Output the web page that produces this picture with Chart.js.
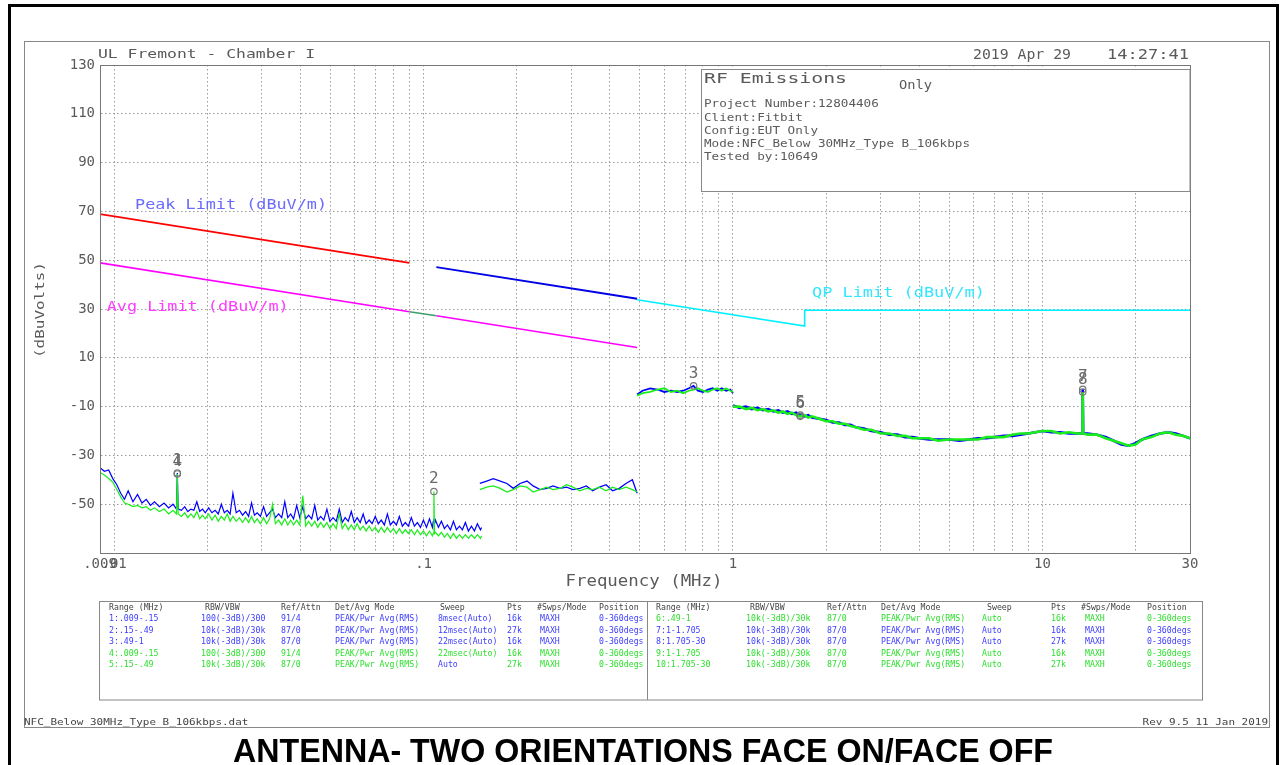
<!DOCTYPE html>
<html>
<head>
<meta charset="utf-8">
<script src="https://cdn.jsdelivr.net/npm/chart.js@4.4.1/dist/chart.umd.min.js"></script>
<style>
  html, body { margin: 0; padding: 0; background: #fff; }
  canvas { display: block; }
</style>
</head>
<body>
<canvas id="emiChart" width="1285" height="765"></canvas>
<script>
// ---- data (MHz / dBuV) ----
const xTickVals = [0.009, 0.01, 0.02, 0.03, 0.04, 0.05, 0.06, 0.07, 0.08, 0.09,
                   0.1, 0.2, 0.3, 0.4, 0.5, 0.6, 0.7, 0.8, 0.9,
                   1, 2, 3, 4, 5, 6, 7, 8, 9, 10, 20, 30];
const xTickText = {0.009: '.009', 0.01: '.01', 0.1: '.1', 1: '1', 10: '10', 30: '30'};
const yTickVals = [-70, -50, -30, -10, 10, 30, 50, 70, 90, 110, 130];

// limit lines
const peakFreqA = [0.009, 0.09];
const peakValA  = [68.9, 48.9];
const peakFreqB = [0.11, 0.49];
const peakValB  = [47.2, 34.2];
const avgFreqA  = [0.009, 0.09];
const avgValA   = [48.9, 28.9];
const avgFreqGap = [0.09, 0.11];
const avgValGap  = [28.9, 27.2];
const avgFreqB  = [0.11, 0.49];
const avgValB   = [27.2, 14.2];
const qpFreq    = [0.49, 1.705, 1.705, 30];
const qpVal     = [33.8, 23.0, 29.5, 29.5];

// segment A: .009 - .15 MHz
const freqA = [0.009, 0.0093, 0.0096, 0.0099, 0.0102, 0.0105, 0.0108, 0.0111, 0.0115, 0.0119,
  0.0123, 0.0127, 0.0131, 0.0135, 0.014, 0.0145, 0.015, 0.0155, 0.0159, 0.016, 0.0161,
  0.0165, 0.0169, 0.0173, 0.0177, 0.0181, 0.0185, 0.0189, 0.0193, 0.0197, 0.0202,
  0.0207, 0.0212, 0.0217, 0.0222, 0.0227, 0.0232, 0.0237, 0.0242, 0.0248, 0.0254,
  0.026, 0.0266, 0.0272, 0.0278, 0.0284, 0.029, 0.0297, 0.0304, 0.0311, 0.0318,
  0.0325, 0.0332, 0.034, 0.0348, 0.0356, 0.0364, 0.0372, 0.038, 0.0389, 0.0398,
  0.0407, 0.0416, 0.0425, 0.0435, 0.0445, 0.0455, 0.0465, 0.0476, 0.0487, 0.0498,
  0.051, 0.0522, 0.0534, 0.0546, 0.0558, 0.0571, 0.0584, 0.0597, 0.061, 0.0624,
  0.0638, 0.0652, 0.0667, 0.0682, 0.0698, 0.0714, 0.073, 0.0747, 0.0764, 0.0781,
  0.0799, 0.0817, 0.0835, 0.0854, 0.0873, 0.0893, 0.0913, 0.0934, 0.0955, 0.0977,
  0.0999, 0.1022, 0.1045, 0.1068, 0.1075, 0.108, 0.1085, 0.1092, 0.1117, 0.1142,
  0.1168, 0.1194, 0.1221, 0.1249, 0.1277, 0.1306, 0.1335, 0.1365, 0.1396, 0.1428,
  0.146, 0.1493, 0.1527, 0.154];
const blueA = [-35, -36.5, -36, -39.5, -42, -45.5, -48, -44.5, -49, -46,
  -49.5, -48, -50.5, -49, -51, -49.5, -51.5, -50, -52, -37.2, -52,
  -52.5, -51, -53, -52, -52.5, -49, -53, -52, -53.5, -51.5,
  -53.5, -52.5, -54, -50, -53.5, -52.5, -54, -45.5, -53.5, -52.5,
  -54.5, -53, -55, -49.5, -54.5, -53.5, -55, -51, -55, -53.5,
  -52, -55.5, -54, -55.5, -49, -55.5, -54, -56, -50.5, -55.5,
  -51, -56, -54.5, -56, -50.5, -56.5, -55, -56.5, -52, -57,
  -55.5, -57, -52, -57.5, -55.5, -57, -53, -57.5, -55.5, -57.5,
  -54, -58, -56.5, -58, -55, -58, -56.5, -58.5, -54, -58.5,
  -57, -58.5, -55, -59, -57.5, -59, -55.5, -59, -57.5, -59.5,
  -56.5, -59.5, -56, -59.5, -57, -56, -58, -56.5, -59.5, -57,
  -60, -58.5, -60.5, -57, -60.5, -59, -60.5, -57.5, -61, -59,
  -61, -58, -60.5, -59.5];
const greenA = [-37, -38, -39.5, -41, -44, -47, -49.5, -50, -51, -50.5,
  -51.5, -51, -52.5, -51.5, -53, -52, -54, -52.5, -54, -37.6, -54,
  -55, -53.5, -55.5, -54, -55.5, -53, -56, -54.5, -56, -54,
  -56.5, -54.5, -57, -55, -56.5, -54, -57, -55, -57, -55.5,
  -57.5, -55.5, -57.5, -55, -57.5, -56, -58, -55.5, -58, -56,
  -50, -58, -56.5, -58.5, -56, -58.5, -56.5, -58.5, -56.5, -58.5,
  -46.5, -59, -57, -59, -57, -59.5, -57.5, -59.5, -57.5, -60,
  -58, -60, -54, -60, -58, -60.5, -58.5, -60.5, -58, -60.5,
  -59, -61, -59, -61, -59.5, -61.5, -59.5, -61.5, -59.5, -61.5,
  -60, -62, -60, -62, -60.5, -62, -60.5, -62.5, -60.5, -62.5,
  -61, -63, -61, -63, -62, -44.8, -62, -61.5, -63, -61.5,
  -63.5, -62, -64, -62, -64, -62.5, -64, -62.5, -64, -62.5,
  -64, -62.5, -64, -63];

// segment B: .15 - .49 MHz
const freqB = [0.152, 0.16, 0.168, 0.177, 0.186, 0.195, 0.205, 0.216, 0.226, 0.238,
  0.25, 0.262, 0.276, 0.29, 0.304, 0.32, 0.336, 0.352, 0.37, 0.389,
  0.408, 0.429, 0.451, 0.473, 0.49];
const blueB = [-41.5, -40.5, -39.5, -40.5, -41.5, -43.5, -41.5, -40.5, -42.5, -44,
  -43.5, -42.5, -43.5, -43, -44, -43.5, -42.5, -44.5, -43, -42,
  -44.5, -43.5, -41.5, -40, -45.5];
const greenB = [-44, -43, -42.5, -43.5, -45, -44, -42.5, -43, -45, -44,
  -43, -44, -43.5, -42, -43, -44.5, -43.5, -44, -43, -44.5,
  -43, -44, -43, -44, -45];

// segment C: .49 - 1 MHz
const freqC = [0.49, 0.51, 0.54, 0.57, 0.6, 0.63, 0.66, 0.69, 0.72, 0.746,
  0.77, 0.8, 0.83, 0.86, 0.89, 0.92, 0.95, 0.98, 1.0];
const blueC = [-5, -3.5, -2.5, -3, -4, -3.5, -4, -3.5, -2.5, -1.5,
  -3.5, -4, -3, -2.5, -3.5, -2.5, -3.5, -3, -4.5];
const greenC = [-5.5, -4.5, -4, -3, -2.5, -4, -3.5, -4.5, -3.5, -3,
  -2.5, -3.5, -4, -3, -2.5, -3.5, -2.5, -3.5, -4];

// segment D: 1 - 30 MHz
const freqD = [1.0, 1.05, 1.1, 1.15, 1.2, 1.25, 1.3, 1.35, 1.4, 1.45,
  1.5, 1.55, 1.6, 1.65, 1.705, 1.75, 1.8, 1.9, 2.0, 2.1,
  2.2, 2.3, 2.4, 2.5, 2.65, 2.8, 3.0, 3.2, 3.4, 3.6,
  3.8, 4.0, 4.3, 4.6, 5.0, 5.4, 5.8, 6.2, 6.6, 7.0,
  7.5, 8.0, 8.5, 9.0, 9.5, 10, 10.7, 11.4, 12.2, 13.0,
  13.45, 13.5, 13.55, 14.0, 15.0, 16.0, 17.0, 18.0, 19.0, 20.0,
  21.0, 22.5, 24.0, 25.5, 27.0, 28.5, 30.0];
const blueD = [-9.5, -10.5, -10, -11, -10.5, -11.5, -11, -12, -11.5, -12.5,
  -12, -13, -12.5, -13.5, -14, -13.5, -14.5, -15, -15.5, -16.5,
  -16.5, -17.5, -17.5, -18.5, -19, -20, -20.5, -21.5, -21.5, -22.5,
  -22.5, -23, -23.5, -23.5, -23.5, -24, -23.5, -23, -23, -22.5,
  -22, -22, -21.5, -21, -20.5, -20, -20.5, -20.5, -21, -21,
  -21, -2.9, -21, -21, -21.5, -22.5, -24, -25.5, -26, -25,
  -23.5, -22, -21, -20.5, -21, -22, -23];
const greenD = [-10, -10, -11, -10.5, -11.5, -11, -12, -11.5, -12.5, -12,
  -13, -12.5, -13.5, -14, -13.5, -14.5, -14, -15, -16, -16,
  -17, -17, -18, -18.5, -19.5, -19.5, -21, -21, -22, -22,
  -23, -23, -23, -24, -23.5, -23.5, -23.5, -23.5, -22.5, -22.5,
  -22.5, -21.5, -21, -21, -20.5, -20, -20, -21, -20.5, -21,
  -21, -4.0, -21, -21.5, -21.5, -23, -24, -25, -26, -25.5,
  -23.5, -22.5, -21, -20.5, -21.5, -22, -23];

// markers
const markerNums = ['1', '4', '2', '3', '5', '6', '7', '8'];
const markerFreq = [0.016, 0.016, 0.108, 0.746, 1.65, 1.65, 13.5, 13.5];
const markerVal  = [-37.2, -37.6, -44.8, -1.5, -13.5, -14.0, -2.9, -4.0];

// text blocks
const infoLines = ['Project Number:12804406', 'Client:Fitbit', 'Config:EUT Only',
  'Mode:NFC_Below 30MHz_Type B_106kbps', 'Tested by:10649'];
const tableHeader = ['Range (MHz)', 'RBW/VBW', 'Ref/Attn', 'Det/Avg Mode', 'Sweep', 'Pts', '#Swps/Mode', 'Position'];
const tableLeft = [
  ['1:.009-.15', '100(-3dB)/300', '91/4', 'PEAK/Pwr Avg(RMS)', '8msec(Auto)', '16k', 'MAXH', '0-360degs'],
  ['2:.15-.49', '10k(-3dB)/30k', '87/0', 'PEAK/Pwr Avg(RMS)', '12msec(Auto)', '27k', 'MAXH', '0-360degs'],
  ['3:.49-1', '10k(-3dB)/30k', '87/0', 'PEAK/Pwr Avg(RMS)', '22msec(Auto)', '16k', 'MAXH', '0-360degs'],
  ['4:.009-.15', '100(-3dB)/300', '91/4', 'PEAK/Pwr Avg(RMS)', '22msec(Auto)', '16k', 'MAXH', '0-360degs'],
  ['5:.15-.49', '10k(-3dB)/30k', '87/0', 'PEAK/Pwr Avg(RMS)', 'Auto', '27k', 'MAXH', '0-360degs']
];
const tableRight = [
  ['6:.49-1', '10k(-3dB)/30k', '87/0', 'PEAK/Pwr Avg(RMS)', 'Auto', '16k', 'MAXH', '0-360degs'],
  ['7:1-1.705', '10k(-3dB)/30k', '87/0', 'PEAK/Pwr Avg(RMS)', 'Auto', '16k', 'MAXH', '0-360degs'],
  ['8:1.705-30', '10k(-3dB)/30k', '87/0', 'PEAK/Pwr Avg(RMS)', 'Auto', '27k', 'MAXH', '0-360degs'],
  ['9:1-1.705', '10k(-3dB)/30k', '87/0', 'PEAK/Pwr Avg(RMS)', 'Auto', '16k', 'MAXH', '0-360degs'],
  ['10:1.705-30', '10k(-3dB)/30k', '87/0', 'PEAK/Pwr Avg(RMS)', 'Auto', '27k', 'MAXH', '0-360degs']
];
const leftRowColor  = ['b', 'b', 'b', 'g', 'g'];
const rightRowColor = ['g', 'b', 'b', 'g', 'g'];

// ---- drawing ----
const MONO = '"DejaVu Sans Mono", monospace';
const SANS = '"Liberation Sans", Arial, sans-serif';
const BLUE = '#0000ff';
const GREEN = '#1aee1a';
const TBLUE = '#3c3cff';
const TGREEN = '#2ee02e';
const GREY = '#5a5a5a';

// text helper: pitch = px per character (plotter font is monospaced)
function txt(ctx, s, x, y, o) {
  ctx.save();
  ctx.font = (o.weight || 'normal') + ' ' + o.size + 'px ' + (o.family || MONO);
  ctx.fillStyle = o.color || GREY;
  ctx.textBaseline = o.baseline || 'middle';
  const w = ctx.measureText(s).width;
  let target = o.width || (o.pitch ? o.pitch * s.length : w);
  const sx = target / w;
  const align = o.align || 'left';
  ctx.translate(x, y);
  if (o.rot) ctx.rotate(o.rot);
  ctx.scale(sx, 1);
  const dx = align === 'left' ? 0 : (align === 'center' ? -w / 2 : -w);
  ctx.fillText(s, dx, 0);
  ctx.restore();
}

function pts(f, v) {
  return f.map((x, i) => ({x: x, y: v[i]}));
}

function line(f, v, color, width, order) {
  return {data: pts(f, v), showLine: true, borderColor: color, borderWidth: width,
          pointRadius: 0, fill: false, tension: 0, order: order};
}

const datasets = [
  line(peakFreqA, peakValA, '#ff0000', 1.6, 5),
  line(peakFreqB, peakValB, '#0000e6', 1.8, 5),
  line(avgFreqA, avgValA, '#ff00ff', 1.6, 5),
  line(avgFreqGap, avgValGap, '#3c9f6a', 1.6, 5),
  line(avgFreqB, avgValB, '#ff00ff', 1.6, 5),
  line(qpFreq, qpVal, '#00f0ff', 1.6, 5)
];
[[freqA, blueA, greenA, 1.2], [freqB, blueB, greenB, 1.3], [freqC, blueC, greenC, 1.8], [freqD, blueD, greenD, 2.6]].forEach(s => {
  datasets.push(line(s[0], s[1], BLUE, s[3], 4));
  datasets.push(line(s[0], s[2], GREEN, s[3], 3));
});
datasets.push({
  data: pts(markerFreq, markerVal), showLine: false, pointStyle: 'circle', pointRadius: 3.2,
  borderColor: '#777', backgroundColor: 'rgba(0,0,0,0)', borderWidth: 1.2, order: 0
});
const MARKER_IDX = datasets.length - 1;

const pagePlugin = {
  id: 'page',
  beforeDraw(chart) {
    const ctx = chart.ctx;
    ctx.save();
    ctx.fillStyle = '#fff';
    ctx.fillRect(0, 0, chart.width, chart.height);
    ctx.restore();
  },
  afterDatasetsDraw(chart) {
    const ctx = chart.ctx;
    const meta = chart.getDatasetMeta(MARKER_IDX);
    meta.data.forEach((p, i) => {
      txt(ctx, markerNums[i], p.x, p.y - 12.5, {size: 16, color: '#6a6a6a', align: 'center'});
    });
  },
  afterDraw(chart) {
    const ctx = chart.ctx;
    const a = chart.chartArea;
    const xs = chart.scales.x, ys = chart.scales.y;
    ctx.save();
    // outer black border
    ctx.fillStyle = '#000';
    ctx.fillRect(8, 4, 3, 761);
    ctx.fillRect(8, 4, 1271, 3);
    ctx.fillRect(1276, 4, 3, 761);
    // page frame
    ctx.strokeStyle = '#888';
    ctx.lineWidth = 1;
    ctx.strokeRect(24.5, 41.5, 1245, 686);
    // plot frame
    ctx.strokeStyle = '#777';
    ctx.strokeRect(a.left + 0.5, a.top + 0.5, a.right - a.left, a.bottom - a.top);
    // info box
    ctx.fillStyle = '#fff';
    ctx.fillRect(701.5, 69.5, a.right - 701.5, 122);
    ctx.strokeStyle = '#888';
    ctx.strokeRect(701.5, 69.5, a.right - 701.5, 122);
    // table box
    ctx.strokeRect(99.5, 601.5, 1103, 98.5);
    ctx.beginPath();
    ctx.moveTo(647.5, 601.5);
    ctx.lineTo(647.5, 700);
    ctx.stroke();
    ctx.restore();

    // headings
    txt(ctx, 'UL Fremont - Chamber I', 98, 54.5, {size: 13, width: 217});
    txt(ctx, '2019 Apr 29', 973, 55, {size: 13.5, width: 98});
    txt(ctx, '14:27:41', 1107, 55, {size: 13.5, width: 82});
    txt(ctx, '(dBuVolts)', 41, 310, {size: 13, width: 96, align: 'center', rot: -Math.PI / 2});
    txt(ctx, 'Frequency (MHz)', 644, 582, {size: 15, width: 157, align: 'center'});

    // info box text
    txt(ctx, 'RF Emissions', 704, 79, {size: 14.5, width: 143});
    txt(ctx, 'Only', 899, 85.5, {size: 12, width: 33});
    infoLines.forEach((s, i) => {
      txt(ctx, s, 704, 104.5 + i * 13.2, {size: 11, pitch: 7.6});
    });

    // limit labels placed in data units
    txt(ctx, 'Peak Limit (dBuV/m)', xs.getPixelForValue(0.01168), ys.getPixelForValue(72.6),
        {size: 14.5, color: '#6a6aff', width: 192});
    txt(ctx, 'Avg Limit (dBuV/m)', xs.getPixelForValue(0.00946), ys.getPixelForValue(30.8),
        {size: 14.5, color: '#ff3cff', width: 182});
    txt(ctx, 'QP Limit (dBuV/m)', xs.getPixelForValue(1.8), ys.getPixelForValue(36.6),
        {size: 14.5, color: '#33e6ff', width: 173});

    // table
    const hxL = [109, 205, 281, 335, 440, 507, 537, 599];
    const dxL = [109, 201, 281, 335, 438, 507, 540, 599];
    const hxR = [656, 750, 827, 881, 987, 1051, 1081, 1147];
    const dxR = [656, 746, 827, 881, 982, 1051, 1085, 1147];
    const rowY = [619, 630.5, 642, 653.3, 664.5];
    const tOpt = (c) => ({size: 9.5, pitch: 4.95, color: c});
    tableHeader.forEach((s, i) => {
      txt(ctx, s, hxL[i], 607.3, tOpt('#444'));
      txt(ctx, s, hxR[i], 607.3, tOpt('#444'));
    });
    tableLeft.forEach((row, r) => {
      row.forEach((s, c) => {
        let col = leftRowColor[r] === 'b' ? TBLUE : TGREEN;
        if (r === 4 && c === 4) col = TBLUE;
        txt(ctx, s, dxL[c], rowY[r], tOpt(col));
      });
    });
    tableRight.forEach((row, r) => {
      row.forEach((s, c) => {
        const col = rightRowColor[r] === 'b' ? TBLUE : TGREEN;
        txt(ctx, s, dxR[c], rowY[r], tOpt(col));
      });
    });

    // footer
    txt(ctx, 'NFC_Below 30MHz_Type B_106kbps.dat', 24, 722.5, {size: 9, pitch: 6.6, color: '#444'});
    txt(ctx, 'Rev 9.5 11 Jan 2019', 1268, 722.5, {size: 9, pitch: 6.6, color: '#444', align: 'right'});
    txt(ctx, 'ANTENNA- TWO ORIENTATIONS FACE ON/FACE OFF', 233, 762,
        {size: 34, weight: 'bold', family: SANS, color: '#000', width: 820, baseline: 'alphabetic'});
  }
};

const ctx = document.getElementById('emiChart').getContext('2d');
new Chart(ctx, {
  type: 'scatter',
  data: {datasets: datasets},
  options: {
    responsive: false,
    animation: false,
    devicePixelRatio: 1,
    layout: {padding: {left: 0, top: 65, right: 95, bottom: 182}},
    plugins: {legend: {display: false}, tooltip: {enabled: false}},
    scales: {
      x: {
        type: 'logarithmic',
        min: 0.009,
        max: 30,
        afterBuildTicks: (scale) => { scale.ticks = xTickVals.map(v => ({value: v})); },
        afterFit: (scale) => { scale.height = 30; },
        ticks: {
          autoSkip: false, maxRotation: 0, padding: 3,
          color: GREY, font: {family: MONO, size: 14},
          callback: (v) => xTickText[v] || ''
        },
        grid: {color: '#9a9a9a', drawTicks: false},
        border: {color: '#777', dash: [1.5, 2.5]}
      },
      y: {
        min: -70,
        max: 130,
        afterBuildTicks: (scale) => { scale.ticks = yTickVals.map(v => ({value: v})); },
        afterFit: (scale) => { scale.width = 100; },
        ticks: {
          padding: 5, color: GREY, font: {family: MONO, size: 14},
          callback: (v) => (v === -70 ? '' : String(v))
        },
        grid: {color: '#9a9a9a', drawTicks: false},
        border: {color: '#777', dash: [1.5, 2.5]}
      }
    }
  },
  plugins: [pagePlugin]
});
</script>
</body>
</html>
